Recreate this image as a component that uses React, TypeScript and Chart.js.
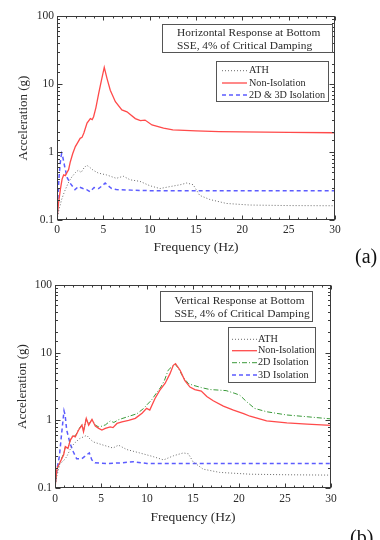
import React, { useEffect, useRef } from "react";
import { Chart, registerables } from "chart.js";

Chart.register(...registerables);

const FONT = '"Liberation Serif", "Times New Roman", Times, serif';

// ---------- Panel (a): Horizontal response ----------
const aAthF = [0, 0.2, 0.5, 0.8, 1.04, 1.3, 1.6, 2.0, 2.3, 2.6, 2.9, 3.2, 3.5, 3.9, 4.45, 5.35, 6.4, 7.15, 7.9, 8.95, 10, 11.1, 12.2, 13.3, 14, 14.7, 15.4, 16.5, 18.3, 20.8, 25, 30];
const aAthV = [0.1, 0.14, 0.2, 0.26, 0.31, 0.37, 0.43, 0.5, 0.54, 0.5, 0.58, 0.64, 0.6, 0.54, 0.49, 0.46, 0.41, 0.44, 0.39, 0.37, 0.32, 0.29, 0.31, 0.33, 0.35, 0.33, 0.23, 0.2, 0.175, 0.166, 0.163, 0.162];

const aNonIsoF = [0, 0.15, 0.36, 0.55, 0.72, 0.9, 1.08, 1.25, 1.44, 1.7, 1.98, 2.2, 2.5, 2.7, 2.9, 3.24, 3.6, 3.8, 3.95, 4.2, 4.5, 4.8, 5.1, 5.4, 5.75, 6.3, 7.0, 7.55, 8.45, 9.0, 9.5, 10.25, 11.5, 12.5, 15, 17.5, 20, 25, 30];
const aNonIsoV = [0.1, 0.17, 0.28, 0.4, 0.46, 0.45, 0.5, 0.55, 0.72, 0.95, 1.2, 1.35, 1.59, 1.64, 1.9, 2.66, 3.1, 3.0, 3.3, 4.5, 7.3, 11.4, 17.6, 12, 8.1, 5.5, 4.15, 3.9, 3.1, 2.9, 2.95, 2.5, 2.25, 2.12, 2.05, 2.0, 1.98, 1.95, 1.92];

const aIsoF = [0, 0.12, 0.25, 0.4, 0.5, 0.62, 0.86, 1.1, 1.4, 1.94, 2.3, 2.8, 3.2, 3.56, 4.0, 4.5, 5.0, 5.2, 5.5, 5.9, 6.4, 8, 10, 15, 20, 25, 30];
const aIsoV = [0.1, 0.25, 0.49, 0.8, 0.95, 0.85, 0.58, 0.42, 0.35, 0.28, 0.31, 0.29, 0.28, 0.26, 0.3, 0.29, 0.33, 0.35, 0.32, 0.29, 0.28, 0.275, 0.27, 0.27, 0.27, 0.27, 0.27];

const aTitle = ["Horizontal Response at Bottom", "SSE, 4% of Critical Damping"];
const aLabels = ["ATH", "Non-Isolation", "2D & 3D Isolation"];

// ---------- Panel (b): Vertical response ----------
const bAthF = [0, 0.2, 0.54, 0.9, 1.27, 1.8, 2.2, 2.7, 3.1, 3.45, 3.8, 4.16, 5.25, 6.3, 6.9, 7.8, 9.2, 10.7, 11.8, 12.9, 13.95, 14.5, 15.0, 16.1, 17.9, 21.2, 25, 30];
const bAthV = [0.1, 0.15, 0.23, 0.25, 0.29, 0.41, 0.47, 0.54, 0.57, 0.6, 0.53, 0.48, 0.43, 0.39, 0.43, 0.37, 0.33, 0.29, 0.26, 0.3, 0.33, 0.32, 0.245, 0.19, 0.17, 0.16, 0.157, 0.155];

const bNonIsoF = [0, 0.22, 0.58, 0.94, 1.12, 1.41, 1.67, 1.96, 2.2, 2.57, 2.93, 3.1, 3.4, 3.66, 4.02, 4.38, 4.75, 5.1, 5.47, 6.0, 6.3, 6.74, 7.28, 8.0, 8.73, 9.46, 9.96, 10.3, 10.87, 11.4, 11.96, 12.5, 12.86, 13.1, 13.6, 14.1, 14.67, 15.2, 15.9, 16.5, 17.2, 18.3, 19.4, 20.5, 21.2, 23, 25.2, 27.4, 30];
const bNonIsoV = [0.1, 0.195, 0.245, 0.31, 0.41, 0.385, 0.51, 0.59, 0.57, 0.72, 0.85, 0.68, 1.07, 0.85, 1.03, 0.82, 0.76, 0.72, 0.76, 0.8, 0.78, 0.9, 0.95, 1.0, 1.07, 1.27, 1.5, 1.42, 2.1, 2.8, 3.5, 4.9, 6.5, 6.9, 5.5, 3.9, 3.1, 2.85, 2.7, 2.25, 1.95, 1.62, 1.42, 1.26, 1.15, 0.98, 0.92, 0.88, 0.84];

const b2dF = [0, 0.22, 0.58, 0.94, 1.12, 1.41, 1.67, 1.96, 2.2, 2.57, 2.93, 3.1, 3.4, 3.66, 4.02, 4.38, 4.75, 5.1, 5.5, 6.0, 6.4, 6.9, 7.8, 8.9, 9.64, 10.0, 10.5, 11.0, 11.5, 11.9, 12.3, 12.7, 13.04, 13.4, 13.95, 14.5, 15.0, 15.9, 16.85, 17.75, 18.6, 19.56, 20.1, 20.8, 21.7, 23, 25.2, 27.4, 30];
const b2dV = [0.1, 0.19, 0.25, 0.32, 0.4, 0.39, 0.52, 0.6, 0.58, 0.74, 0.86, 0.7, 1.05, 0.88, 1.02, 0.85, 0.8, 0.82, 0.86, 0.98, 0.93, 1.02, 1.12, 1.25, 1.5, 1.7, 2.0, 2.5, 3.1, 3.9, 5.5, 6.2, 6.8, 5.9, 4.3, 3.5, 3.3, 3.05, 2.85, 2.8, 2.75, 2.5, 2.35, 1.9, 1.5, 1.34, 1.2, 1.13, 1.05];

const b3dF = [0, 0.1, 0.3, 0.47, 0.76, 0.98, 1.1, 1.27, 1.63, 2.0, 2.36, 2.9, 3.2, 3.45, 3.73, 4.0, 4.35, 5.6, 7.4, 8.5, 10, 15, 20, 25, 30];
const b3dV = [0.1, 0.15, 0.22, 0.29, 0.72, 1.38, 1.2, 0.72, 0.46, 0.34, 0.27, 0.27, 0.29, 0.31, 0.33, 0.26, 0.236, 0.23, 0.236, 0.245, 0.23, 0.23, 0.23, 0.23, 0.23];

const bTitle = ["Vertical Response at Bottom", "SSE, 4% of Critical Damping"];
const bLabels = ["ATH", "Non-Isolation", "2D Isolation", "3D Isolation"];

const xTicksMajor = 5;
const yMin = 0.1;
const yMax = 100;
const xMax = 30;

const pts = (f: number[], v: number[]) => f.map((x, i) => ({ x, y: v[i] }));

const STYLE = {
  ath: { borderColor: "#6a6a6a", borderWidth: 1, borderDash: [1, 2] },
  non: { borderColor: "#ff4a4a", borderWidth: 1.3, borderDash: [] as number[] },
  blue: { borderColor: "#5c5cff", borderWidth: 1.5, borderDash: [4, 3] },
  green: { borderColor: "#3a9a3a", borderWidth: 1, borderDash: [5, 2, 1, 2] },
};

type Layout = {
  padTop: number;
  padRight: number;
  yWidth: number;
  xHeight: number;
  xTickPad: number;
  yTitlePad: number;
  titleBox: number[];
  titleX: number;
  titleY: number[];
  legendBox: number[];
  legendRows: number[];
  sampleX: number[];
  textX: number;
  tag: string;
  tagX: number;
  tagY: number;
};

function isPow10(v: number) {
  const l = Math.log10(v);
  return Math.abs(l - Math.round(l)) < 1e-6;
}

function makePlugin(L: Layout, titleLines: string[]) {
  return {
    id: "decor",
    afterDatasetsDraw(chart: any) {
      const { ctx, chartArea: a, scales } = chart;
      ctx.save();
      ctx.strokeStyle = "#3a3a3a";
      ctx.lineWidth = 1;
      const l = Math.round(a.left) + 0.5;
      const r = Math.round(a.right) - 0.5;
      const t = Math.round(a.top) + 0.5;
      const b = Math.round(a.bottom) - 0.5;
      ctx.strokeRect(l, t, r - l, b - t);
      ctx.beginPath();
      for (const tk of scales.x.ticks) {
        const px = Math.round(scales.x.getPixelForValue(tk.value)) + 0.5;
        const len = tk.value % xTicksMajor === 0 ? 4 : 2;
        ctx.moveTo(px, b);
        ctx.lineTo(px, b - len);
        ctx.moveTo(px, t);
        ctx.lineTo(px, t + len);
      }
      for (const tk of scales.y.ticks) {
        const py = Math.round(scales.y.getPixelForValue(tk.value)) + 0.5;
        const len = isPow10(tk.value) ? 5 : 2.5;
        ctx.moveTo(l, py);
        ctx.lineTo(l + len, py);
        ctx.moveTo(r, py);
        ctx.lineTo(r - len, py);
      }
      ctx.stroke();
      ctx.restore();
    },
    afterDraw(chart: any) {
      const ctx = chart.ctx;
      ctx.save();
      // title box
      ctx.strokeStyle = "#555";
      ctx.lineWidth = 1;
      const [tx0, ty0, tx1, ty1] = L.titleBox;
      ctx.strokeRect(tx0 + 0.5, ty0 + 0.5, tx1 - tx0, ty1 - ty0);
      ctx.fillStyle = "#2a2a2a";
      ctx.font = `11.4px ${FONT}`;
      ctx.textAlign = "left";
      ctx.textBaseline = "middle";
      titleLines.forEach((s, i) => ctx.fillText(s, L.titleX, L.titleY[i]));
      // legend box
      const [lx0, ly0, lx1, ly1] = L.legendBox;
      ctx.strokeRect(lx0 + 0.5, ly0 + 0.5, lx1 - lx0, ly1 - ly0);
      ctx.font = `10.2px ${FONT}`;
      chart.data.datasets.forEach((ds: any, i: number) => {
        const y = L.legendRows[i];
        ctx.save();
        ctx.strokeStyle = ds.borderColor;
        ctx.lineWidth = ds.borderWidth;
        ctx.setLineDash(ds.borderDash || []);
        ctx.beginPath();
        ctx.moveTo(L.sampleX[0], y);
        ctx.lineTo(L.sampleX[1], y);
        ctx.stroke();
        ctx.restore();
        ctx.fillStyle = "#2a2a2a";
        ctx.fillText(ds.label, L.textX, y);
      });
      // panel tag
      ctx.font = `20px ${FONT}`;
      ctx.textBaseline = "alphabetic";
      ctx.fillStyle = "#111";
      ctx.fillText(L.tag, L.tagX, L.tagY);
      ctx.restore();
    },
  };
}

function Panel({ top, datasets, layout, title }: { top: number; datasets: any[]; layout: Layout; title: string[] }) {
  const ref = useRef<HTMLCanvasElement>(null);
  useEffect(() => {
    const L = layout;
    const chart = new Chart(ref.current as HTMLCanvasElement, {
      type: "line",
      data: { datasets },
      options: {
        animation: false,
        responsive: false,
        maintainAspectRatio: false,
        parsing: true,
        layout: { padding: { left: 0, top: L.padTop, right: L.padRight, bottom: 0 } },
        elements: { point: { radius: 0 }, line: { tension: 0 } },
        plugins: { legend: { display: false }, tooltip: { enabled: false } },
        scales: {
          x: {
            type: "linear",
            min: 0,
            max: xMax,
            afterFit: (s: any) => {
              s.height = L.xHeight;
            },
            ticks: {
              stepSize: 1,
              autoSkip: false,
              maxRotation: 0,
              padding: L.xTickPad,
              color: "#2a2a2a",
              font: { family: FONT, size: 11.5 },
              callback: (v: any) => (Number(v) % xTicksMajor === 0 ? String(v) : ""),
            },
            grid: { display: false, drawTicks: false },
            border: { display: false },
            title: {
              display: true,
              text: "Frequency (Hz)",
              color: "#2a2a2a",
              font: { family: FONT, size: 13.5 },
              padding: { top: 0, bottom: 14 },
            },
          },
          y: {
            type: "logarithmic",
            min: yMin,
            max: yMax,
            afterFit: (s: any) => {
              s.width = L.yWidth;
            },
            ticks: {
              autoSkip: false,
              padding: 3,
              color: "#2a2a2a",
              font: { family: FONT, size: 11.5 },
              callback: (v: any) => (isPow10(Number(v)) ? String(Number(v)) : ""),
            },
            grid: { display: false, drawTicks: false },
            border: { display: false },
            title: {
              display: true,
              text: "Acceleration (g)",
              color: "#2a2a2a",
              font: { family: FONT, size: 13 },
              padding: { top: L.yTitlePad, bottom: 0 },
            },
          },
        },
      },
      plugins: [makePlugin(L, title)],
    } as any);
    return () => chart.destroy();
  }, []);
  return (
    <div style={{ position: "absolute", left: 0, top, width: 380, height: 270 }}>
      <canvas ref={ref} width={380} height={270} style={{ display: "block", width: 380, height: 270 }} />
    </div>
  );
}

const mk = (label: string, f: number[], v: number[], st: any) => ({
  label,
  data: pts(f, v),
  fill: false,
  pointRadius: 0,
  ...st,
});

export default function App() {
  const aSets = [
    mk(aLabels[0], aAthF, aAthV, STYLE.ath),
    mk(aLabels[1], aNonIsoF, aNonIsoV, STYLE.non),
    mk(aLabels[2], aIsoF, aIsoV, STYLE.blue),
  ];
  const bSets = [
    mk(bLabels[0], bAthF, bAthV, STYLE.ath),
    mk(bLabels[1], bNonIsoF, bNonIsoV, STYLE.non),
    mk(bLabels[2], b2dF, b2dV, STYLE.green),
    mk(bLabels[3], b3dF, b3dV, STYLE.blue),
  ];
  const aLayout: Layout = {
    padTop: 16,
    padRight: 45,
    yWidth: 57,
    xHeight: 50,
    xTickPad: 3,
    yTitlePad: 16,
    titleBox: [162, 24, 332, 52],
    titleX: 177,
    titleY: [33, 46.5],
    legendBox: [216, 61, 328, 101],
    legendRows: [70.7, 83, 95],
    sampleX: [222, 247],
    textX: 249,
    tag: "(a)",
    tagX: 355,
    tagY: 263,
  };
  const bLayout: Layout = {
    padTop: 15,
    padRight: 49,
    yWidth: 55,
    xHeight: 52,
    xTickPad: 4,
    yTitlePad: 15,
    titleBox: [160, 21, 312, 51],
    titleX: 174.5,
    titleY: [31, 44.5],
    legendBox: [228, 57, 315, 112],
    legendRows: [69.3, 80.7, 92.7, 105],
    sampleX: [232, 257],
    textX: 258,
    tag: "(b)",
    tagX: 350,
    tagY: 274,
  };
  return (
    <div style={{ position: "absolute", left: 0, top: 0, width: 380, height: 540, background: "#fff", overflow: "hidden" }}>
      <Panel top={0} datasets={aSets} layout={aLayout} title={aTitle} />
      <Panel top={270} datasets={bSets} layout={bLayout} title={bTitle} />
    </div>
  );
}
